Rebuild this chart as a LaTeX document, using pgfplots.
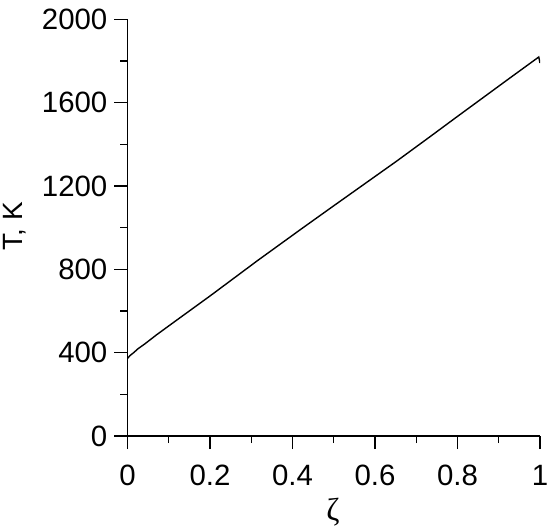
\documentclass[border=0pt]{standalone}
\usepackage{fontspec}
\setmainfont{Liberation Sans}
\newfontfamily\serifz{Liberation Serif}
\usepackage{pgfplots}
\pgfplotsset{compat=1.18}
\begin{document}
\begin{tikzpicture}
\useasboundingbox (-127.5bp,-95bp) rectangle (422.5bp,436bp);
\begin{axis}[
  at={(0,0)}, anchor=south west, scale only axis,
  width=412.5bp, height=416.7bp,
  xmin=0, xmax=1, ymin=0, ymax=2000,
  axis lines*=left,
  tick align=outside,
  xtick={0,0.2,0.4,0.6,0.8,1}, minor xtick={0.1,0.3,0.5,0.7,0.9},
  ytick={0,400,800,1200,1600,2000}, minor ytick={200,600,1000,1400,1800},
  major tick length=13bp, minor tick length=7bp,
  every tick/.style={black, line width=1.2bp},
  axis line style={line width=1.2bp, black},
  /pgf/number format/assume math mode=true,
  /pgf/number format/1000 sep={},
  tick label style={font=\fontsize{29.5}{33}\selectfont, inner sep=0pt},
  yticklabel style={anchor=east, xshift=-7bp},
  xticklabel style={anchor=north, yshift=-16bp},
  every axis y label/.style={at={(axis description cs:-0.2727,0.504)}, rotate=90, anchor=center, font=\fontsize{28}{30}\selectfont},
  every axis x label/.style={at={(axis description cs:0.498,-0.1824)}, anchor=center, font=\serifz\fontsize{32}{34}\selectfont},
  xlabel={ζ},
  ylabel={T, K},
]
\addplot[black, line width=1.4bp, mark=none] coordinates {
  (0,372) (0.006,386) (0.015,400) (0.025,418) (0.042,442) (0.07,485)
  (0.115,550) (0.2,672) (0.316,843) (0.418,989) (0.5,1105) (0.653,1320)
  (0.733,1436) (0.8,1534) (0.922,1711) (0.997,1819) (1.0,1790)
};
\end{axis}
\end{tikzpicture}
\end{document}
